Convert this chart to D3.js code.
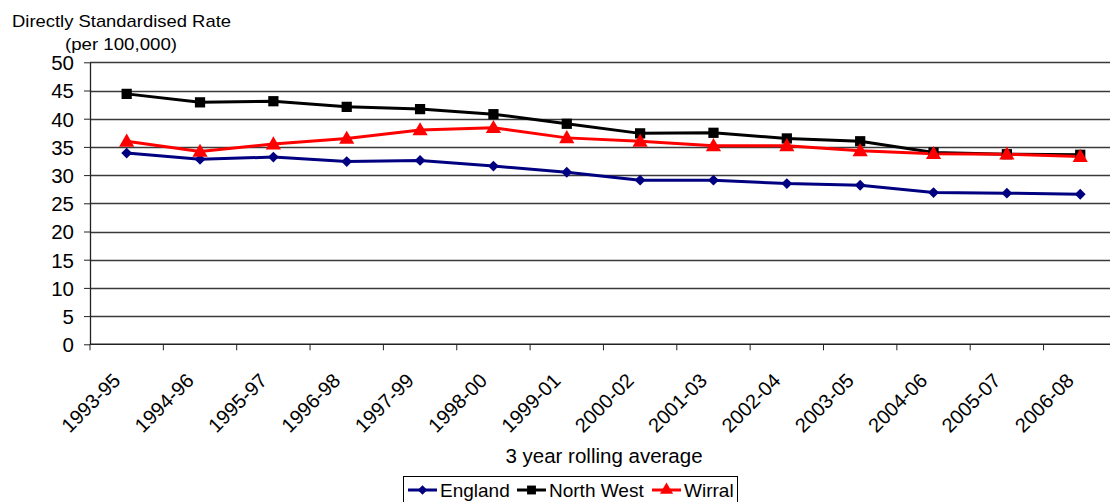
<!DOCTYPE html>
<html><head><meta charset="utf-8">
<script src="https://cdn.jsdelivr.net/npm/d3@7"></script>
<style>
html,body{margin:0;padding:0;background:#fff;}
svg{display:block;font-family:"Liberation Sans",Arial,sans-serif;}
</style></head>
<body><svg id="c" width="1110" height="502"></svg>
<script>
const categories = ["1993-95","1994-96","1995-97","1996-98","1997-99","1998-00","1999-01","2000-02","2001-03","2002-04","2003-05","2004-06","2005-07","2006-08"];
const england   = [33.9,32.8,33.2,32.4,32.6,31.6,30.5,29.1,29.1,28.5,28.2,26.9,26.8,26.6];
const northWest = [44.4,42.9,43.1,42.1,41.7,40.8,39.1,37.4,37.5,36.5,36.0,34.0,33.7,33.6];
const wirral    = [36.0,34.2,35.5,36.5,38.0,38.4,36.6,36.0,35.2,35.2,34.3,33.8,33.7,33.3];
const yTicks = [0,5,10,15,20,25,30,35,40,45,50];
const seriesNames = ["England","North West","Wirral"];

const svg = d3.select("#c");
const left = 90, bandW = 73.35;
const x = d3.scaleBand().domain(categories).range([left, left + bandW*categories.length]).paddingInner(0).paddingOuter(0);
const y = d3.scaleLinear().domain([0,50]).range([344.3, 62.3]);
const cx = c => x(c) + x.bandwidth()/2;
const crisp = v => Math.round(v) + 0.5;

// gridlines
svg.append("g").selectAll("line").data(yTicks.filter(t=>t>0)).join("line")
  .attr("x1", left).attr("x2", x.range()[1])
  .attr("y1", d=>crisp(y(d))).attr("y2", d=>crisp(y(d)))
  .attr("stroke","#3a3a3a").attr("stroke-width",1.3);

// y axis
const ya = svg.append("g").attr("transform",`translate(${left},0)`)
  .call(d3.axisLeft(y).tickValues(yTicks).tickSize(6).tickPadding(10).tickSizeOuter(0));
ya.select(".domain").attr("stroke","#222").attr("stroke-width",1.3);
ya.selectAll(".tick line").attr("stroke","#222");
ya.selectAll("text").attr("font-size",20.5).attr("font-family","Liberation Sans, Arial, sans-serif").attr("fill","#000").attr("dy","0.36em");

// x axis
const y0 = y(0);
svg.append("line").attr("x1",left).attr("x2",x.range()[1]).attr("y1",y0).attr("y2",y0).attr("stroke","#222").attr("stroke-width",1.4);
const bounds = categories.map(c=>x(c)).concat([x.range()[1]]);
svg.append("g").selectAll("line").data(bounds).join("line")
  .attr("x1",d=>d).attr("x2",d=>d).attr("y1",y0).attr("y2",y0+6).attr("stroke","#222");
svg.append("g").selectAll("text").data(categories).join("text")
  .attr("transform", d=>`translate(${cx(d)-5},${y0+37.5}) rotate(-45)`)
  .attr("text-anchor","end").attr("font-size",20).attr("fill","#000").text(d=>d);

// titles
svg.append("text").attr("x",12).attr("y",27).attr("font-size",17).attr("textLength",219).attr("lengthAdjust","spacingAndGlyphs").text("Directly Standardised Rate");
svg.append("text").attr("x",65).attr("y",50).attr("font-size",17).attr("textLength",112).attr("lengthAdjust","spacingAndGlyphs").text("(per 100,000)");
svg.append("text").attr("x",604).attr("y",463).attr("text-anchor","middle").attr("font-size",20.5).text("3 year rolling average");

// series
const series = [
  {name:seriesNames[0], values:england, color:"#000080", marker:"diamond"},
  {name:seriesNames[1], values:northWest, color:"#000000", marker:"square"},
  {name:seriesNames[2], values:wirral, color:"#FF0000", marker:"triangle"}
];
const symType = {diamond:d3.symbolDiamond2, square:d3.symbolSquare, triangle:d3.symbolTriangle};
const symSize = {diamond:75, square:105, triangle:100};
const line = d3.line().x((d,i)=>cx(categories[i])).y(d=>y(d));
series.forEach(s=>{
  svg.append("path").attr("d", line(s.values)).attr("fill","none").attr("stroke",s.color).attr("stroke-width",3);
});
series.forEach(s=>{
  svg.append("g").selectAll("path").data(s.values).join("path")
    .attr("transform",(d,i)=>`translate(${cx(categories[i])},${y(d) + (s.marker==="triangle"?1:0)})`)
    .attr("d", d3.symbol().type(symType[s.marker]).size(symSize[s.marker])()).attr("fill",s.color);
});

// legend
const lg = svg.append("g");
lg.append("rect").attr("x",403.5).attr("y",476.5).attr("width",334).attr("height",32).attr("fill","#fff").attr("stroke","#000");
const legX = [408, 517, 652];
series.forEach((s,i)=>{
  const g = lg.append("g").attr("transform",`translate(${legX[i]},490)`);
  g.append("line").attr("x1",0).attr("x2",29).attr("y1",0).attr("y2",0).attr("stroke",s.color).attr("stroke-width",3);
  g.append("path").attr("transform","translate(14.5,0)").attr("d", d3.symbol().type(symType[s.marker]).size(symSize[s.marker]*0.75)()).attr("fill",s.color);
  g.append("text").attr("x",32).attr("y",7).attr("font-size",19).text(s.name);
});
</script></body></html>
